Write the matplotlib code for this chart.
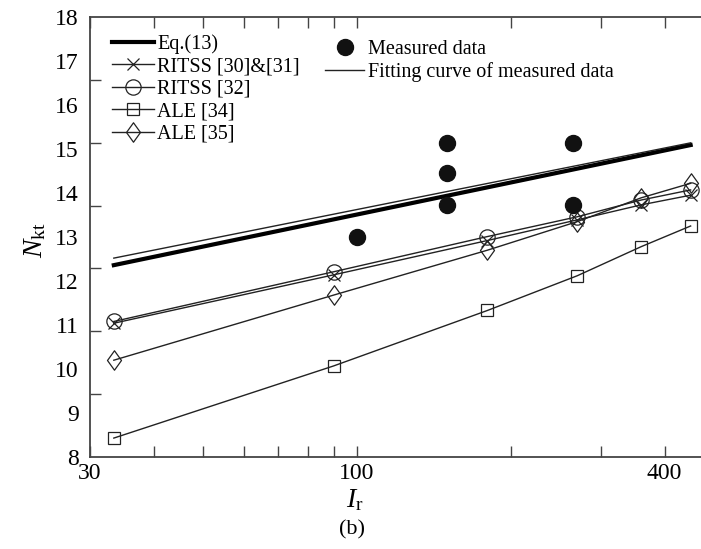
import matplotlib
matplotlib.use("Agg")
import matplotlib.pyplot as plt
import numpy as np
from matplotlib.path import Path
from matplotlib.lines import Line2D
from matplotlib.ticker import FixedLocator, NullFormatter

plt.rcParams['font.family'] = ['Liberation Serif', 'DejaVu Serif']
plt.rcParams['mathtext.fontset'] = 'custom'
plt.rcParams['mathtext.rm'] = 'Liberation Serif'
plt.rcParams['mathtext.it'] = 'Liberation Serif:italic'

# Model predictions at the simulated rigidity indices
ir_model = [33.4, 90, 180, 270, 360, 450]
ritss_30_31 = [11.04, 12.14, 12.92, 13.39, 13.73, 13.95]
ritss_32 = [11.08, 12.21, 13.01, 13.46, 13.84, 14.07]
ale_34 = [8.43, 10.07, 11.33, 12.12, 12.78, 13.25]
ale_35 = [10.20, 11.68, 12.70, 13.35, 13.89, 14.22]

# Eq.(13) and fitted trend (straight lines on log axis)
ir_line = [33.4, 450]
eq13 = [12.36, 15.09]
fit_curve = [12.52, 15.14]

# Field measurements
ir_measured = [100, 150, 150, 150, 265, 265]
nkt_measured = [13.0, 15.14, 14.45, 13.73, 15.14, 13.73]

y_labels = [8, 9, 10, 11, 12, 13, 14, 15, 16, 17, 18]

fig = plt.figure(figsize=(7.01, 5.49), dpi=100)
ax = fig.add_axes([90/701, 92/549, 624/701, 440/549])

tall_diamond = Path([(0, 1), (0.72, 0), (0, -1), (-0.72, 0), (0, 1)],
                    [Path.MOVETO, Path.LINETO, Path.LINETO, Path.LINETO, Path.CLOSEPOLY])

lc = '#222222'
lw = 1.0
ax.plot(ir_line, eq13, color='black', lw=3.0, label='Eq.(13)', zorder=3)
ax.plot(ir_model, ritss_30_31, color=lc, lw=lw, marker='x', ms=9, mew=0.9,
        label='RITSS [30]&[31]')
ax.plot(ir_model, ritss_32, color=lc, lw=lw, marker='o', ms=11, mfc='none', mew=0.9,
        label='RITSS [32]')
ax.plot(ir_model, ale_34, color=lc, lw=lw, marker='s', ms=8, mfc='none', mew=0.9,
        label='ALE [34]')
ax.plot(ir_model, ale_35, color=lc, lw=lw, marker=tall_diamond, ms=14, mfc='none', mew=0.9,
        label='ALE [35]')
ax.plot(ir_line, fit_curve, color=lc, lw=1.0, zorder=3)
ax.plot(ir_measured, nkt_measured, ls='none', marker='o', ms=11.5, color='#111111', zorder=4)

ax.set_xscale('log')
ax.set_xlim(30, 500)
ax.set_ylim(8, 18)

# x ticks
ax.xaxis.set_major_locator(FixedLocator([30, 100, 400]))
ax.xaxis.set_minor_locator(FixedLocator([40, 50, 60, 70, 80, 90, 200, 300]))
ax.set_xticklabels(['30', '100', '400'])
ax.xaxis.set_minor_formatter(NullFormatter())
ax.tick_params(axis='x', which='both', direction='in', length=8, width=1.0,
               top=True, bottom=True, color='#444444', labelsize=17, pad=4)

# y: integer labels without marks, tick marks at seven equal steps
ax.set_yticks(y_labels)
ax.set_yticklabels([str(v) for v in y_labels])
ax.yaxis.set_minor_locator(FixedLocator([8 + k * 10 / 7 for k in range(1, 7)]))
ax.tick_params(axis='y', which='major', length=0, labelsize=17, pad=8)
ax.tick_params(axis='y', which='minor', direction='in', length=8, width=1.0,
               color='#444444', left=True, right=False)

for s in ['left', 'bottom', 'top']:
    ax.spines[s].set_color('#444444')
    ax.spines[s].set_linewidth(1.3)
ax.spines['right'].set_visible(False)

fig.text(35/701, 1 - 240/549, r'$N_{\mathrm{kt}}$', rotation=90, fontsize=20,
         ha='center', va='center')
fig.text(355/701, 1 - 500/549, r'$I_{\mathrm{r}}$', fontsize=20, ha='center', va='center')
fig.text(352/701, 1 - 530/549, '(b)', fontsize=16, ha='center', va='center')

leg1 = ax.legend(loc='upper left', bbox_to_anchor=(112/701, 1 - 34/549),
                 bbox_transform=fig.transFigure, frameon=False, fontsize=14.5,
                 borderpad=0, borderaxespad=0, handlelength=2.1, handletextpad=0.15,
                 labelspacing=0.17)
ax.add_artist(leg1)

h_meas = Line2D([], [], ls='none', marker='o', ms=11.5, color='#111111')
h_fit = Line2D([], [], color=lc, lw=1.0)
ax.legend([h_meas, h_fit], ['Measured data', 'Fitting curve of measured data'],
          loc='upper left', bbox_to_anchor=(325/701, 1 - 40/549),
          bbox_transform=fig.transFigure, frameon=False, fontsize=14.5,
          borderpad=0, borderaxespad=0, handlelength=1.95, handletextpad=0.2,
          labelspacing=0.17)

fig.savefig('out.png', dpi=100)
